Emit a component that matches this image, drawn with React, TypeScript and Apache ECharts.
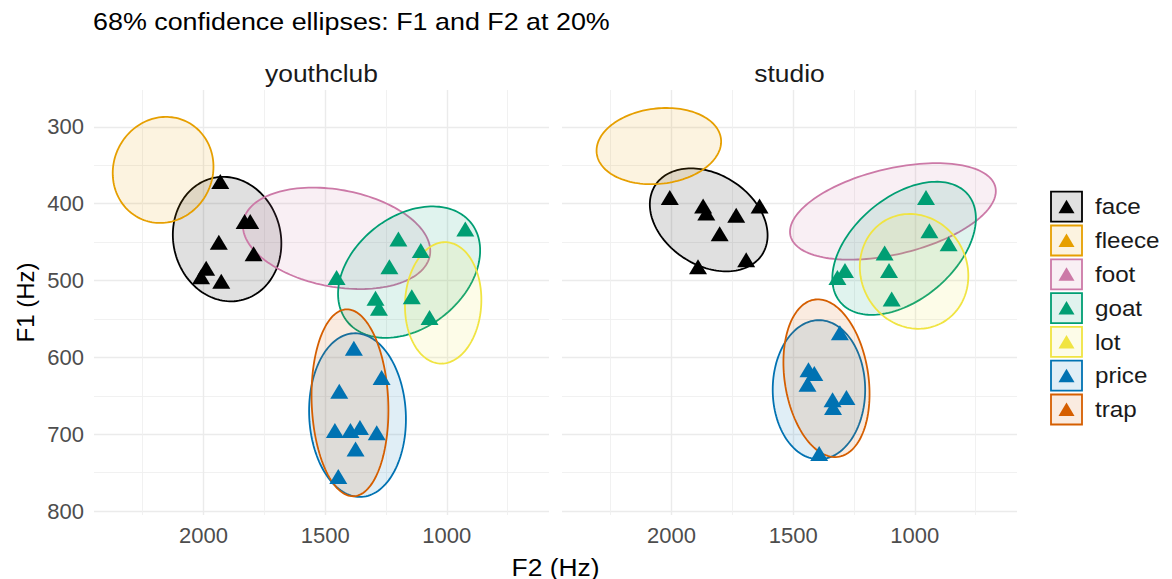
import { useEffect, useRef } from 'react';
import * as echarts from 'echarts';

// ---------- categories ----------
const panels = ['youthclub', 'studio'];
const words = ['face', 'fleece', 'foot', 'goat', 'lot', 'price', 'trap'];
const wordColors = ['#000000', '#E69F00', '#CC79A7', '#009E73', '#F0E442', '#0072B2', '#D55E00'];

// ---------- tick labels ----------
const f2Ticks = [2000, 1500, 1000];
const f2MinorTicks = [2250, 1750, 1250, 750];
const f1Ticks = [300, 400, 500, 600, 700, 800];
const f1MinorTicks = [350, 450, 550, 650, 750];

// ---------- points: youthclub ----------
const youthclubFaceF2 = [1931, 1831, 1808, 1937, 1794, 1989, 2010, 1927];
const youthclubFaceF1 = [371, 423, 423, 450, 465, 484, 495, 501];
const youthclubGoatF2 = [924, 1199, 1107, 1236, 1453, 1293, 1279, 1144, 1071];
const youthclubGoatF1 = [433, 446, 461, 482, 496, 523, 536, 521, 548];
const youthclubPriceF2 = [1382, 1268, 1442, 1460, 1396, 1357, 1288, 1375, 1446];
const youthclubPriceF1 = [588, 626, 644, 695, 695, 691, 698, 719, 755];

// ---------- points: studio ----------
const studioFaceF2 = [2007, 1870, 1857, 1734, 1802, 1638, 1693, 1891];
const studioFaceF1 = [392, 403, 412, 415, 439, 403, 473, 482];
const studioGoatF2 = [954, 940, 861, 1124, 1106, 1095, 1287, 1318];
const studioGoatF1 = [392, 435, 452, 464, 487, 524, 487, 496];
const studioPriceF2 = [1308, 1437, 1413, 1441, 1338, 1281, 1336, 1393];
const studioPriceF1 = [568, 616, 621, 635, 655, 652, 665, 725];

// ---------- 68% ellipses (word order), centre, half-extent, correlation ----------
const youthclubEllipseF2 = [1903, 2166, 1453, 1155, 1015, 1367, 1398];
const youthclubEllipseF1 = [446, 356, 445, 489, 529, 675, 659];
const youthclubEllipseHalfF2 = [223, 207, 385, 292, 157, 199, 158];
const youthclubEllipseHalfF1 = [81, 69, 66, 85.5, 79, 106.5, 121.6];
const youthclubEllipseCorr = [-0.07, 0.06, -0.25, 0.33, 0.05, -0.05, -0.08];

const studioEllipseF2 = [1847, 2052, 1090, 1044, 1003, 1394, 1363];
const studioEllipseF1 = [421, 325, 410, 458, 488, 642, 627];
const studioEllipseHalfF2 = [242, 256, 423, 295, 223, 190, 177];
const studioEllipseHalfF1 = [67, 49.6, 62.8, 86.6, 74.7, 90.5, 102.6];
const studioEllipseCorr = [-0.3, 0.12, 0.42, 0.45, -0.08, 0.0, -0.2];

const pointSets = [
  { panel: 0, word: 'face', f2: youthclubFaceF2, f1: youthclubFaceF1 },
  { panel: 0, word: 'goat', f2: youthclubGoatF2, f1: youthclubGoatF1 },
  { panel: 0, word: 'price', f2: youthclubPriceF2, f1: youthclubPriceF1 },
  { panel: 1, word: 'face', f2: studioFaceF2, f1: studioFaceF1 },
  { panel: 1, word: 'goat', f2: studioGoatF2, f1: studioGoatF1 },
  { panel: 1, word: 'price', f2: studioPriceF2, f1: studioPriceF1 },
];

const ellipseSets = [
  { cx: youthclubEllipseF2, cy: youthclubEllipseF1, hx: youthclubEllipseHalfF2, hy: youthclubEllipseHalfF1, r: youthclubEllipseCorr },
  { cx: studioEllipseF2, cy: studioEllipseF1, hx: studioEllipseHalfF2, hy: studioEllipseHalfF1, r: studioEllipseCorr },
];

const FONT = '"Liberation Sans", Arial, Helvetica, sans-serif';

function rgba(hex: string, a: number) {
  const n = parseInt(hex.slice(1), 16);
  return `rgba(${(n >> 16) & 255},${(n >> 8) & 255},${n & 255},${a})`;
}

const FILL_ALPHA = 0.12;

export default function App() {
  const ref = useRef<HTMLDivElement>(null);

  useEffect(() => {
    if (!ref.current) return;
    const chart = echarts.init(ref.current, undefined, { renderer: 'svg' });

    const grids = [
      { left: 94, top: 90, width: 455, height: 425 },
      { left: 562, top: 90, width: 455, height: 425 },
    ];

    const plain = (v: number) => String(v);

    const xAxes: any[] = [];
    const yAxes: any[] = [];
    panels.forEach((_, i) => {
      const baseX = {
        type: 'value', gridIndex: i, inverse: true, min: 580, max: 2450,
        axisLine: { show: false },
      };
      xAxes.push({
        ...baseX,
        axisTick: { show: false, customValues: f2Ticks },
        axisLabel: { show: true, customValues: f2Ticks, formatter: plain, fontSize: 22, color: '#4d4d4d', fontFamily: FONT, margin: 9 },
        splitLine: { show: true, lineStyle: { color: '#ebebeb', width: 1.4 } },
      });
      xAxes.push({
        ...baseX,
        axisTick: { show: false, customValues: f2MinorTicks },
        axisLabel: { show: false },
        splitLine: { show: true, lineStyle: { color: '#efefef', width: 0.9 } },
      });
      const baseY = {
        type: 'value', gridIndex: i, inverse: true, min: 252, max: 805,
        axisLine: { show: false },
      };
      yAxes.push({
        ...baseY,
        axisTick: { show: false, customValues: f1Ticks },
        axisLabel: { show: i === 0, customValues: f1Ticks, formatter: plain, fontSize: 22, color: '#4d4d4d', fontFamily: FONT, margin: 10 },
        splitLine: { show: true, lineStyle: { color: '#ebebeb', width: 1.4 } },
      });
      yAxes.push({
        ...baseY,
        axisTick: { show: false, customValues: f1MinorTicks },
        axisLabel: { show: false },
        splitLine: { show: true, lineStyle: { color: '#efefef', width: 0.9 } },
      });
    });

    const series: any[] = [];
    ellipseSets.forEach((es, p) => {
      words.forEach((w, k) => {
        const color = wordColors[k];
        series.push({
          type: 'custom',
          name: `${panels[p]}-${w}-ellipse`,
          xAxisIndex: 2 * p,
          yAxisIndex: 2 * p,
          z: 2,
          silent: true,
          encode: { x: 0, y: 1 },
          data: [[es.cx[k], es.cy[k], es.hx[k], es.hy[k], es.r[k]]],
          renderItem: (_params: any, api: any) => {
            const cx = api.value(0), cy = api.value(1), hx = api.value(2), hy = api.value(3), r = api.value(4);
            const s = Math.sqrt(1 - r * r);
            const pts: number[][] = [];
            const N = 144;
            for (let j = 0; j < N; j++) {
              const t = (2 * Math.PI * j) / N;
              pts.push(api.coord([cx + hx * Math.cos(t), cy + hy * (r * Math.cos(t) + s * Math.sin(t))]));
            }
            return {
              type: 'polygon',
              shape: { points: pts },
              style: { fill: rgba(color, FILL_ALPHA), stroke: color, lineWidth: 1.8 },
            };
          },
        });
      });
    });

    pointSets.forEach((ps) => {
      const k = words.indexOf(ps.word);
      series.push({
        type: 'scatter',
        name: `${panels[ps.panel]}-${ps.word}`,
        xAxisIndex: 2 * ps.panel,
        yAxisIndex: 2 * ps.panel,
        z: 5,
        symbol: 'triangle',
        symbolSize: [18, 15],
        itemStyle: { color: wordColors[k], opacity: 1 },
        data: ps.f2.map((v, j) => [v, ps.f1[j]]),
      });
    });

    const graphics: any[] = [
      {
        type: 'text', x: 93, y: 22,
        style: { text: '68% confidence ellipses: F1 and F2 at 20%', font: `24px ${FONT}`, fill: '#000', align: 'left', verticalAlign: 'middle' },
        scaleX: 1.12,
      },
      {
        type: 'text', x: 555.5, y: 567,
        style: { text: 'F2 (Hz)', font: `24px ${FONT}`, fill: '#000', align: 'center', verticalAlign: 'middle' },
        scaleX: 1.1,
      },
      {
        type: 'text', x: 25, y: 302.5, rotation: Math.PI / 2,
        style: { text: 'F1 (Hz)', font: `24px ${FONT}`, fill: '#000', align: 'center', verticalAlign: 'middle' },
        scaleX: 1.0,
      },
    ];
    panels.forEach((p, i) => {
      graphics.push({
        type: 'text', x: grids[i].left + grids[i].width / 2, y: 73,
        style: { text: p, font: `24px ${FONT}`, fill: '#1a1a1a', align: 'center', verticalAlign: 'middle' },
        scaleX: 1.1,
      });
    });
    words.forEach((w, k) => {
      const yc = 206.7 + k * 33.8;
      const bx = 1051;
      graphics.push({
        type: 'rect',
        shape: { x: bx, y: yc - 15, width: 31, height: 30 },
        style: { fill: rgba(wordColors[k], FILL_ALPHA), stroke: wordColors[k], lineWidth: 1.8 },
      });
      graphics.push({
        type: 'polygon',
        shape: { points: [[bx + 15.5 - 8, yc + 6.5], [bx + 15.5 + 8, yc + 6.5], [bx + 15.5, yc - 7]] },
        style: { fill: wordColors[k] },
      });
      graphics.push({
        type: 'text', x: 1095, y: yc,
        style: { text: w, font: `22px ${FONT}`, fill: '#1a1a1a', align: 'left', verticalAlign: 'middle' },
        scaleX: 1.1,
      });
    });

    chart.setOption({
      animation: false,
      backgroundColor: '#ffffff',
      grid: grids,
      xAxis: xAxes,
      yAxis: yAxes,
      series,
      graphic: graphics,
    });

    return () => chart.dispose();
  }, []);

  return <div ref={ref} style={{ width: 1172, height: 579, position: 'absolute', left: 0, top: 0 }} />;
}
